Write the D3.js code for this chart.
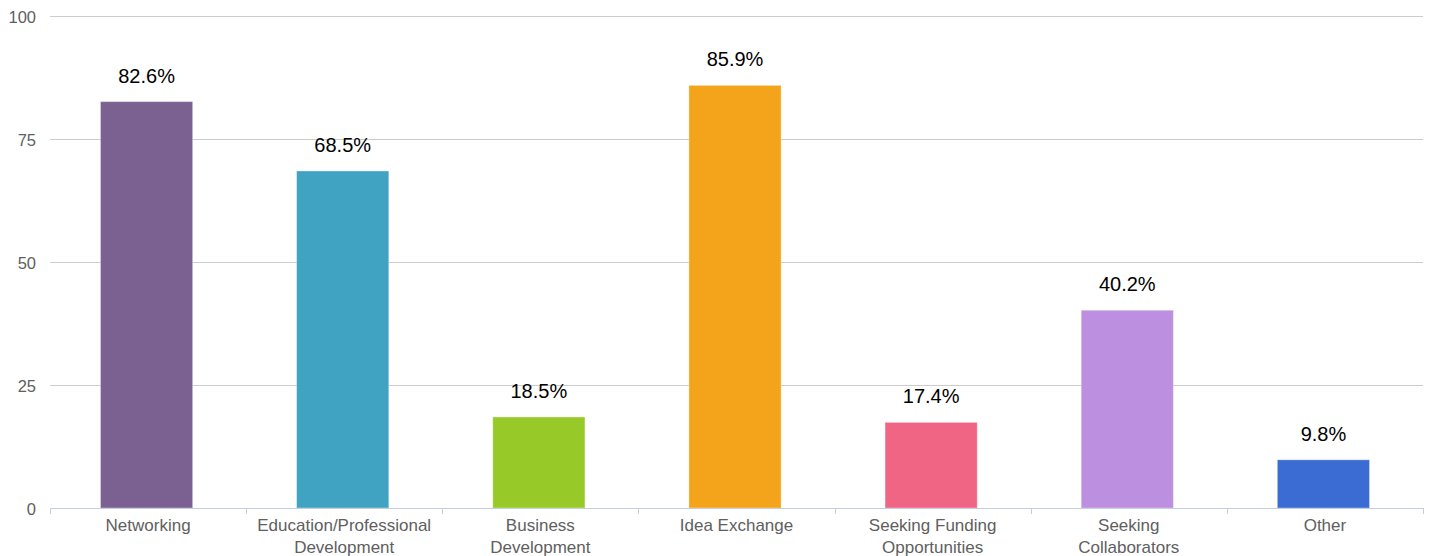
<!DOCTYPE html>
<html><head><meta charset="utf-8">
<script src="https://cdn.jsdelivr.net/npm/d3@7"></script>
<style>body{margin:0;background:#fff}svg{display:block}text{font-family:"Liberation Sans",Arial,sans-serif}</style>
</head><body><svg id="c" width="1433" height="556"></svg>
<script>
const categories = [["Networking"],["Education/Professional","Development"],["Business","Development"],["Idea Exchange"],["Seeking Funding","Opportunities"],["Seeking","Collaborators"],["Other"]];
const values = [82.6, 68.5, 18.5, 85.9, 17.4, 40.2, 9.8];
const labels = ["82.6%","68.5%","18.5%","85.9%","17.4%","40.2%","9.8%"];
const colors = ["#7b6191","#40a3c2","#97c928","#f4a41b","#f06584","#bd8fe0","#3a6cd3"];
const yTicks = [0,25,50,75,100];

const svg = d3.select("#c");
const mLeft = 50, mRight = 1423, mTop = 16, mBottom = 508;
const keys = categories.map((c,i)=>i);
const x = d3.scaleBand().domain(keys).range([mLeft,mRight]).paddingInner(0).paddingOuter(0);
const y = d3.scaleLinear().domain([0,100]).range([mBottom,mTop]);
const bw = x.bandwidth()*0.47;
const barShift = -1.5;

// gridlines
svg.append("g").selectAll("line").data(yTicks.filter(t=>t>0)).join("line")
  .attr("x1",mLeft).attr("x2",mRight).attr("y1",d=>y(d)+0.5).attr("y2",d=>y(d)+0.5)
  .attr("stroke","#cccccc").attr("stroke-width",1);
// y labels
svg.append("g").selectAll("text").data(yTicks).join("text")
  .attr("x",36).attr("y",d=>y(d)+6.5).attr("text-anchor","end")
  .attr("font-size",16.5).attr("fill","#606060").text(d=>d);

// bars
svg.append("g").selectAll("rect").data(values).join("rect")
  .attr("x",(d,i)=>x(i)+x.bandwidth()/2-bw/2+barShift).attr("width",bw)
  .attr("y",d=>y(d)).attr("height",d=>y(0)-y(d))
  .attr("fill",(d,i)=>colors[i]).attr("stroke","rgba(255,255,255,0.35)").attr("stroke-width",1);

// value labels
svg.append("g").selectAll("text").data(values).join("text")
  .attr("x",(d,i)=>x(i)+x.bandwidth()/2+barShift).attr("y",d=>y(d)-19)
  .attr("text-anchor","middle").attr("font-size",20).attr("fill","#000").text((d,i)=>labels[i]);

// x axis line & ticks
svg.append("line").attr("x1",mLeft).attr("x2",mRight).attr("y1",mBottom+0.5).attr("y2",mBottom+0.5)
  .attr("stroke","#c0d0e0").attr("stroke-width",1);
const edges = keys.map(i=>x(i)).concat([mRight]);
svg.append("g").selectAll("line").data(edges).join("line")
  .attr("x1",d=>Math.round(d)+0.5).attr("x2",d=>Math.round(d)+0.5).attr("y1",mBottom).attr("y2",mBottom+6)
  .attr("stroke","#c0d0e0").attr("stroke-width",1);

// x labels
const xl = svg.append("g").selectAll("text").data(categories).join("text")
  .attr("x",(d,i)=>x(i)+x.bandwidth()/2).attr("y",530.5)
  .attr("text-anchor","middle").attr("font-size",17).attr("fill","#606060");
xl.each(function(d,i){
  const t=d3.select(this);
  d.forEach((line,j)=>t.append("tspan").attr("x",x(i)+x.bandwidth()/2).attr("dy",j?22.5:0).text(line));
});
</script></body></html>
